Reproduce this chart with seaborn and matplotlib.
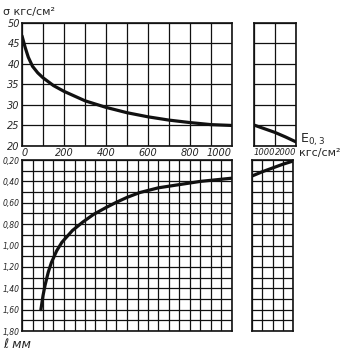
import numpy as np
import pandas as pd
import matplotlib
matplotlib.use("Agg")
import matplotlib.pyplot as plt
import seaborn as sns

# --- data ---
# sigma (kgs/cm2) vs E0.3, left part 0..1000
e_sigma_left = [0, 15, 30, 50, 75, 100, 150, 200, 300, 400, 500, 600, 700, 800, 900, 1000]
sigma_left = [46.8, 44.0, 41.6, 39.4, 37.8, 36.6, 34.7, 33.3, 31.0, 29.4, 28.1, 27.1, 26.3, 25.7, 25.2, 25.0]
# right part 1000..2000
e_sigma_right = [1000, 1250, 1500, 1750, 2000]
sigma_right = [25.1, 24.2, 23.3, 22.2, 21.0]

# l (mm) vs E0.3
e_l_left = [90, 100, 110, 125, 140, 165, 190, 240, 290, 340, 400, 450, 500, 560, 650, 750, 850, 1000]
l_left = [1.60, 1.47, 1.37, 1.25, 1.16, 1.05, 0.97, 0.86, 0.78, 0.71, 0.645, 0.595, 0.55, 0.505,
          0.46, 0.43, 0.40, 0.37]
e_l_right = [1000, 1250, 1500, 1750, 2000]
l_right = [0.35, 0.31, 0.275, 0.24, 0.21]

sigma_labels = ["20", "25", "30", "35", "40", "45", "50"]
l_ticks = [0.2, 0.4, 0.6, 0.8, 1.0, 1.2, 1.4, 1.6, 1.8]
l_labels = ["0,20", "0,40", "0,60", "0,80", "1,00", "1,20", "1,40", "1,60", "1,80"]
e_labels_left = ["0", "200", "400", "600", "800", "1000"]
e_labels_right = ["1000", "2000"]

# --- figure setup ---
sns.set_style("white")
plt.rcParams["font.family"] = ["DejaVu Sans"]
W, H = 362, 354
fig = plt.figure(figsize=(W / 100, H / 100), dpi=100)

def box(x0, y0, x1, y1):
    return [x0 / W, 1 - y1 / H, (x1 - x0) / W, (y1 - y0) / H]

ax_tl = fig.add_axes(box(22, 22.7, 232, 146))
ax_tr = fig.add_axes(box(254, 22.7, 296, 146))
ax_bl = fig.add_axes(box(22, 160, 232, 331))
ax_br = fig.add_axes(box(252, 160, 293, 331))

def style(ax, xlim, xstep, ylim, ystep):
    ax.set_xlim(*xlim)
    ax.set_ylim(*ylim)
    ax.set_xticks(np.arange(xlim[0], xlim[1] + 1e-9, xstep))
    lo, hi = min(ylim), max(ylim)
    ax.set_yticks(np.arange(lo, hi + 1e-9, ystep))
    ax.grid(True, color="#111111", linewidth=0.9)
    ax.set_axisbelow(True)
    for s in ax.spines.values():
        s.set_color("#111111")
        s.set_linewidth(1.2)
    ax.tick_params(length=0, labelsize=7, pad=1.5)
    ax.set_xlabel("")
    ax.set_ylabel("")

line_kw = dict(color="#111111", linewidth=2.3)

sns.lineplot(x=e_sigma_left, y=sigma_left, ax=ax_tl, **line_kw)
sns.lineplot(x=e_sigma_right, y=sigma_right, ax=ax_tr, **line_kw)
sns.lineplot(x=e_l_left, y=l_left, ax=ax_bl, **line_kw)
sns.lineplot(x=e_l_right, y=l_right, ax=ax_br, **line_kw)

style(ax_tl, (0, 1000), 100, (20, 50), 5)
style(ax_tr, (1000, 2000), 500, (20, 50), 5)
style(ax_bl, (0, 1000), 50, (1.8, 0.2), 0.1)
style(ax_br, (1000, 2000), 250, (1.8, 0.2), 0.1)

# top-left labels
ax_tl.set_xticklabels([e_labels_left[i // 2] if i % 2 == 0 else "" for i in range(11)],
                      style="italic")
ax_tl.set_yticklabels(sigma_labels, style="italic")
for t in ax_tl.get_xticklabels():
    if t.get_text() == "1000":
        t.set_ha("right")
    elif t.get_text() == "0":
        t.set_ha("left")

# top-right labels
ax_tr.set_xticklabels([e_labels_right[0], "", e_labels_right[1]], style="italic", fontsize=6)
ax_tr.set_yticklabels([])
xl = ax_tr.get_xticklabels()
xl[0].set_ha("left")
xl[2].set_ha("right")

# bottom labels
ax_bl.set_xticklabels([])
ylabs = []
for v in np.arange(0.2, 1.8 + 1e-9, 0.1):
    match = [lab for tk, lab in zip(l_ticks, l_labels) if abs(tk - v) < 1e-6]
    ylabs.append(match[0] if match else "")
ax_bl.set_yticklabels(ylabs, style="italic", fontsize=5.5)
ax_br.set_xticklabels([])
ax_br.set_yticklabels([])

# axis titles
fig.text(3 / W, 1 - 12 / H, "σ кгс/см²", fontsize=8, va="center", ha="left")
fig.text(300 / W, 1 - 140 / H, r"$\mathregular{E_{0,3}}$", fontsize=9, va="center", ha="left")
fig.text(299 / W, 1 - 153 / H, "кгс/см²", fontsize=8, va="center", ha="left")
fig.text(3 / W, 1 - 345 / H, "ℓ мм", fontsize=9, va="center", ha="left", style="italic")

fig.savefig("out.png", dpi=100)
